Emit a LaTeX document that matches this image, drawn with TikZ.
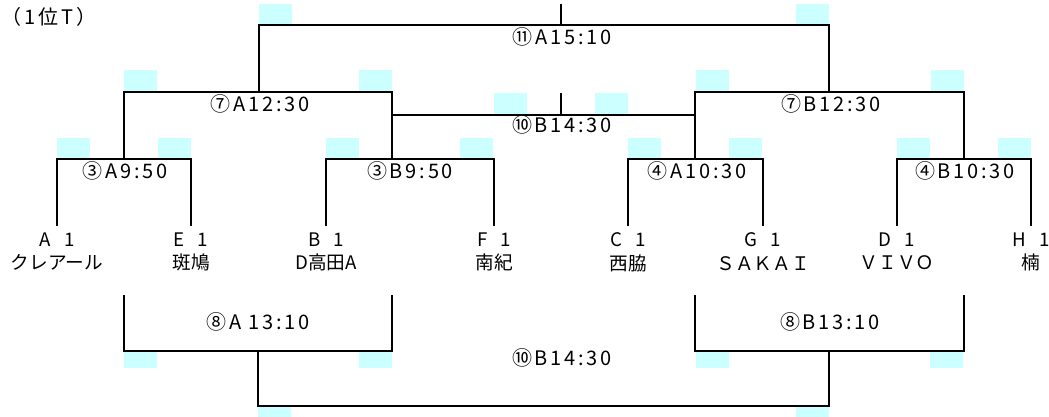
\documentclass[tikz,border=0pt]{standalone}
\usepackage{fontspec}
\setmainfont{Noto Sans CJK JP}
\newfontfamily\gamefont{Noto Sans CJK JP}[LetterSpace=14]
\definecolor{seatcyan}{RGB}{204,255,255}
\tikzset{
  team/.style={align=center,anchor=north,inner xsep=0pt,inner ysep=5pt,font=\fontsize{14}{17.5}\selectfont},
  game/.style={inner sep=0pt,font=\gamefont\fontsize{15}{17}\selectfont},
  seat/.style={fill=seatcyan},
  bar/.style={line width=1.4pt}
}
\begin{document}
\begin{tikzpicture}[x=0.75pt,y=-0.75pt]
                    \useasboundingbox(0,0)rectangle(1049,417);
                    \foreach \x/\y in {259/4,796/4,124/70,359/70,696/70,931/70,494/93,595/93,
                        57/138,158/138,326/138,460/138,628/138,729/138,897/138,998/138}
                        \fill[seat](\x,\y)rectangle++(33,21);
                    \foreach \x/\y in {124/352,359/352,696/352,930/352,258/407,796/407}
                        \fill[seat](\x,\y)rectangle++(33,16);
                    \node[team](A1)at(57,226){A\hspace{0.7em}1\\クレアール};
                    \node[team](E1)at(191,226){E\hspace{0.7em}1\\斑鳩};
                    \node[team](B1)at(326,226){B\hspace{0.7em}1\\D高田A};
                    \node[team](F1)at(494,226){F\hspace{0.7em}1\\南紀};
                    \node[team](C1)at(628,226){C\hspace{0.7em}1\\西脇};
                    \node[team](G1)at(763,226){G\hspace{0.7em}1\\ＳＡＫＡＩ};
                    \node[team](D1)at(897,226){D\hspace{0.7em}1\\ＶＩＶＯ};
                    \node[team](H1)at(1031,226){H\hspace{0.7em}1\\楠};
                    \coordinate(M3A)at(124,159);
                    \coordinate(M3B)at(392,159);
                    \coordinate(M4A)at(695,159);
                    \coordinate(M4B)at(964,159);
                    \coordinate(M7A)at(259,92);
                    \coordinate(M7B)at(829,92);
                    \coordinate(M10)at(561,115);
                    \coordinate(M10T)at(561,93);
                    \coordinate(M11)at(561,25);
                    \coordinate(M11T)at(561,4);
                    \draw[bar](A1.north)|-(M3A)-|(E1.north);
                    \draw[bar](B1.north)|-(M3B)-|(F1.north);
                    \draw[bar](C1.north)|-(M4A)-|(G1.north);
                    \draw[bar](D1.north)|-(M4B)-|(H1.north);
                    \draw[bar](M3A)|-(M7A)-|(M3B);
                    \draw[bar](M4A)|-(M7B)-|(M4B);
                    \draw[bar](M3B)|-(M10)-|(M4A);
                    \draw[bar](M10T)--(M10);
                    \draw[bar](M7A)|-(M11)-|(M7B);
                    \draw[bar](M11T)--(M11);
                    \coordinate(P8A)at(124,295);
                    \coordinate(Q8A)at(392,295);
                    \coordinate(P8B)at(695,295);
                    \coordinate(Q8B)at(964,295);
                    \coordinate(M8A)at(258,351);
                    \coordinate(M8B)at(829,351);
                    \coordinate(N10)at(561,406);
                    \draw[bar](P8A)|-(M8A)-|(Q8A);
                    \draw[bar](P8B)|-(M8B)-|(Q8B);
                    \draw[bar](M8A)|-(N10)-|(M8B);
                    \node[game](R)at(49,17){（1位T）};
                    \node[game](G11)at(562,37){⑪A15:10};
                    \node[game](G7A)at(260,104){⑦A12:30};
                    \node[game](G7B)at(831,104){⑦B12:30};
                    \node[game](G10)at(562,125){⑩B14:30};
                    \node[game](G3A)at(125,171){③A9:50};
                    \node[game](G3B)at(410,171){③B9:50};
                    \node[game](G4A)at(697,171){④A10:30};
                    \node[game](G4B)at(965,171){④B10:30};
                    \node[game](G8A)at(258,322){⑧A 13:10};
                    \node[game](G8B)at(830,322){⑧B13:10};
                    \node[game](G10B)at(562,358){⑩B14:30};
                \end{tikzpicture}
\end{document}
